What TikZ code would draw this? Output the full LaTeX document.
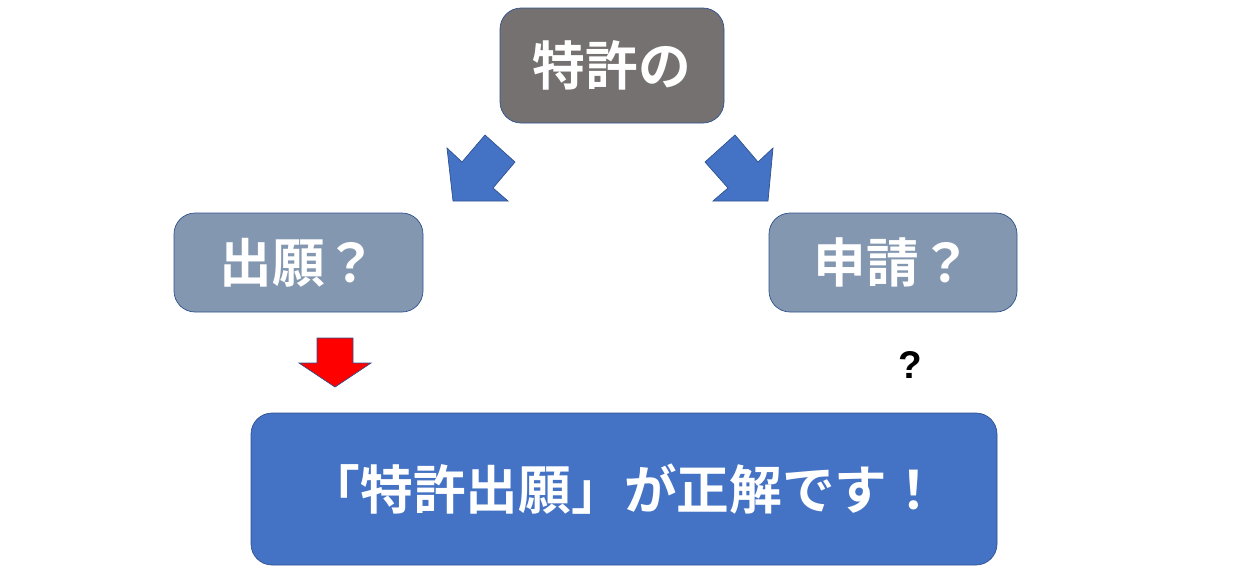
\documentclass[tikz,border=0pt]{standalone}
\usepackage{fontspec}
\newfontfamily\cjk{Noto Sans CJK JP Bold}
\setmainfont{Liberation Sans}
\definecolor{boxgray}{HTML}{767171}
\definecolor{boxslate}{HTML}{8497B0}
\definecolor{boxblue}{HTML}{4472C4}
\definecolor{edge}{HTML}{2F528F}
\tikzset{
  box/.style={draw=edge,rounded corners=12pt,text=white,font=\cjk\fontsize{30}{36}\selectfont},
  blk/.style={draw=edge,fill=boxblue}
}
\begin{document}
\begin{tikzpicture}[x=0.02cm,y=-0.02cm]
        \useasboundingbox (0,0) rectangle (1244,576);
        \node[box,fill=boxgray,minimum width=224*0.02cm,minimum height=115*0.02cm] (top) at (612,65.5) {特許の};
        \node[box,fill=boxslate,minimum width=249*0.02cm,minimum height=99*0.02cm] (left) at (298.5,262.5) {出願？};
        \node[box,fill=boxslate,minimum width=248*0.02cm,minimum height=99*0.02cm] (right) at (893,262.5) {申請？};
        \node[box,fill=boxblue,minimum width=746*0.02cm,minimum height=152*0.02cm] (answer) at (624,489) {「特許出願」が正解です！};
        \node[font=\bfseries\fontsize{22}{26}\selectfont] (ask) at (910,365) {?};
        \draw[blk] (447,148) -- (462,162) -- (485,135) -- (515,162) -- (493,188) -- (508,201) -- (453,201) -- cycle;
        \draw[blk] (773,148) -- (758,162) -- (735,135) -- (705,162) -- (728,188) -- (713,201) -- (768,201) -- cycle;
        \draw[draw=edge,fill=red] (317,338) -- (353,338) -- (353,363) -- (371,363) -- (335,387) -- (299,363) -- (317,363) -- cycle;
\end{tikzpicture}
\end{document}
